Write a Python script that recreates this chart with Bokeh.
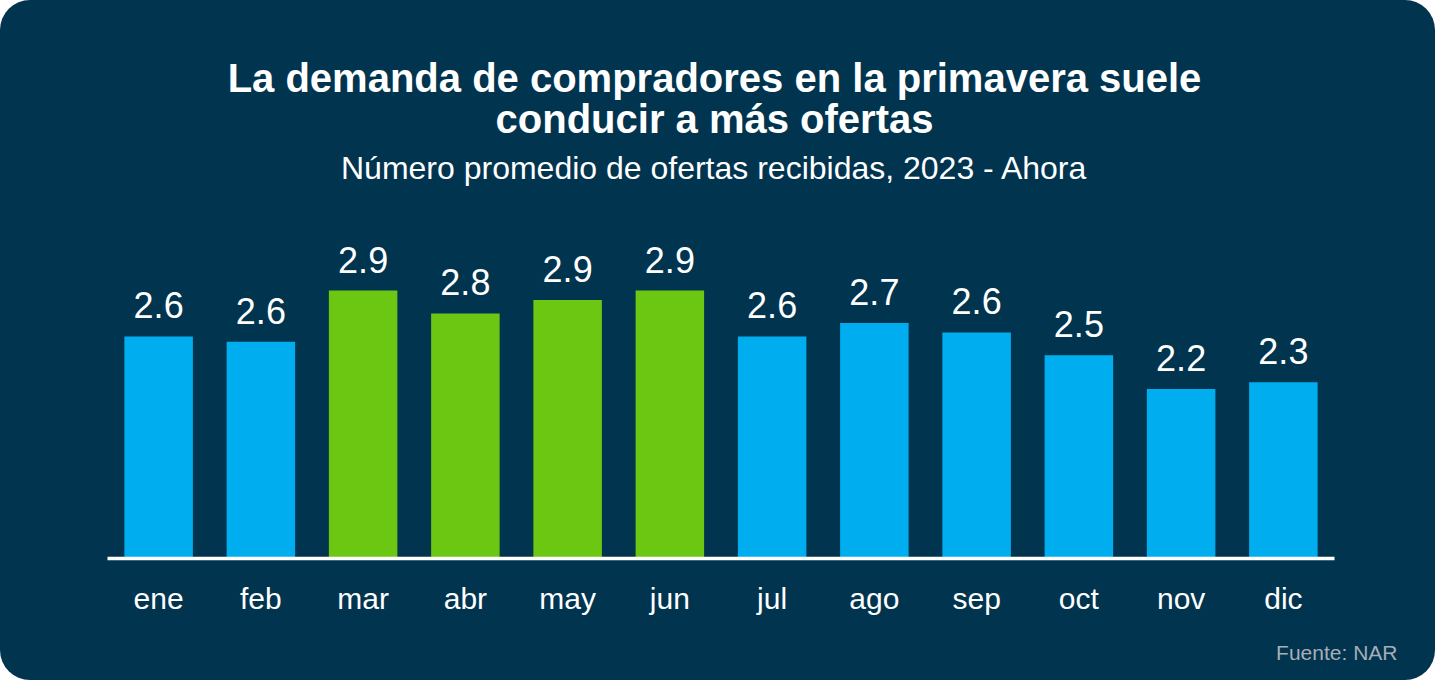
from bokeh.plotting import figure
from bokeh.models import Range1d, FactorRange
from bokeh.core.properties import value
from bokeh.embed import file_html
from bokeh.resources import INLINE

# ---- data ----
months = ["ene", "feb", "mar", "abr", "may", "jun", "jul", "ago", "sep", "oct", "nov", "dic"]
offers = [2.60, 2.56, 2.94, 2.77, 2.87, 2.94, 2.60, 2.70, 2.63, 2.46, 2.21, 2.26]
spring = ["mar", "abr", "may", "jun"]
title_lines = ["La demanda de compradores en la primavera suele", "conducir a más ofertas"]
subtitle = "Número promedio de ofertas recibidas, 2023 - Ahora"
source = "Fuente: NAR"

NAVY = "#00344F"
BLUE = "#00AEEF"
GREEN = "#6CC712"
FONT = "Liberation Sans"

W, H = 1435, 680
SLOT = 102.25          # px per category
Y0 = 0.955             # value axis starts here (bar base)
PX_PER_UNIT = 135.0
BASE_CANVAS = 558      # canvas y of bar base
y_start = Y0 - (H - BASE_CANVAS) / PX_PER_UNIT
y_end = Y0 + BASE_CANVAS / PX_PER_UNIT
pad = (W - 6 - SLOT * len(months)) / 2 / SLOT

p = figure(x_range=FactorRange(factors=months, range_padding=pad, range_padding_units="absolute"),
           y_range=Range1d(y_start, y_end), width=W, height=H,
           output_backend="svg", toolbar_location=None,
           x_axis_location=None, y_axis_location=None,
           min_border_left=6, min_border_right=0, min_border_top=0, min_border_bottom=0)
p.background_fill_color = None
p.border_fill_color = None
p.outline_line_color = None
p.grid.visible = False
p.styles = {"border-radius": "30px", "overflow": "hidden", "background-color": NAVY}


def ypix(page_y):
    return Y0 + (566 - page_y) / PX_PER_UNIT


colors = [GREEN if m in spring else BLUE for m in months]
p.vbar(x=months, top=offers, bottom=Y0, width=0.67, color=colors, line_color=None)

# baseline
p.segment(x0=[0], x1=[len(months)], y0=[Y0], y1=[Y0], line_color="white", line_width=3.5)

# value labels
labels = [f"{v:.1f}" for v in offers]
p.text(x=months, y=offers, text=labels, text_align="center", text_baseline="alphabetic",
       y_offset=-31, text_color="white", text_font=value(FONT), text_font_size="36px")

# month labels
p.text(x=months, y=[Y0] * len(months), text=months, text_align="center",
       text_baseline="alphabetic", y_offset=40, text_color="white",
       text_font=value(FONT), text_font_size="30px")

xc = (722 - 115) / SLOT
p.text(x=[xc, xc], y=[ypix(85), ypix(126)], text=title_lines, text_align="center",
       text_baseline="alphabetic", text_color="white", text_font=value(FONT),
       text_font_style="bold", text_font_size="40px")
p.text(x=[xc], y=[ypix(175.5)], text=[subtitle], text_align="center",
       text_baseline="alphabetic", text_color="white", text_font=value(FONT),
       text_font_size="32px")

p.text(x=[(1405 - 115) / SLOT], y=[ypix(660)], text=[source], text_align="right",
       text_baseline="alphabetic", text_color="#A7AEB6", text_font=value(FONT),
       text_font_size="21px")

open("out.html", "w").write(file_html(p, INLINE))
